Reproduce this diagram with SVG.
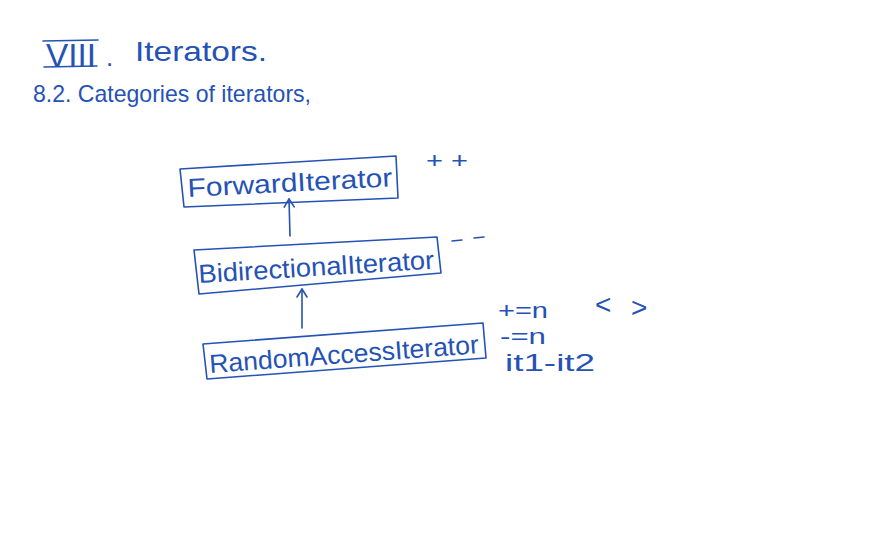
<svg xmlns="http://www.w3.org/2000/svg" width="870" height="558" viewBox="0 0 870 558">
<style>
.ink{fill:none;stroke:#2552b5;stroke-width:1.6;stroke-linecap:round;stroke-linejoin:round}
.t{fill:#2552b5;font-family:"Liberation Sans","DejaVu Sans",sans-serif}
</style>
<defs>
<marker id="ah" viewBox="0 0 12 12" refX="11" refY="6" markerWidth="12" markerHeight="12" markerUnits="userSpaceOnUse" orient="auto">
<path d="M3,1 L11,6 L3,11" fill="none" stroke="#2552b5" stroke-width="1.6" stroke-linecap="round" stroke-linejoin="round"/>
</marker>
</defs>
<rect width="870" height="558" fill="#ffffff"/>
<g id="title">
<text class="t" x="46" y="67" font-size="34" textLength="50" lengthAdjust="spacingAndGlyphs">VIII</text>
<path class="ink" d="M43,41 L98,40 M44,67 L97,66"/>
<text class="t" x="106" y="66" font-size="26">.</text>
<text class="t" x="135" y="61" font-size="28" textLength="132" lengthAdjust="spacingAndGlyphs">Iterators.</text>
</g>
<g id="subtitle">
<text class="t" x="33" y="102" font-size="24" textLength="278" lengthAdjust="spacingAndGlyphs">8.2. Categories of iterators,</text>
</g>
<g id="forward">
<path class="ink" d="M180,169 L396,156 L398,198 L184,207 Z"/>
<text class="t" x="188" y="197" font-size="26" textLength="205" lengthAdjust="spacingAndGlyphs" transform="rotate(-3 188 197)">ForwardIterator</text>
</g>
<g id="bidirectional">
<path class="ink" d="M194,250 L437,237 L441,273 L199,294 Z"/>
<text class="t" x="199" y="283" font-size="26" textLength="236" lengthAdjust="spacingAndGlyphs" transform="rotate(-3.5 199 283)">BidirectionalIterator</text>
</g>
<g id="random">
<path class="ink" d="M203,344 L483,323 L486,358 L207,379 Z"/>
<text class="t" x="210" y="373" font-size="26" textLength="270" lengthAdjust="spacingAndGlyphs" transform="rotate(-4.2 210 373)">RandomAccessIterator</text>
</g>
<g id="connectors">
<path class="ink" d="M290,236 L289,199" marker-end="url(#ah)"/>
<path class="ink" d="M302,328 L302,289" marker-end="url(#ah)"/>
</g>
<g id="notes">
<text class="t" x="426" y="168" font-size="22" textLength="42" lengthAdjust="spacingAndGlyphs">+ +</text>
<path class="ink" d="M452,241 L462,240 M474,238 L484,237"/>
<text class="t" x="498" y="318" font-size="22" textLength="50" lengthAdjust="spacingAndGlyphs">+=n</text>
<text class="t" x="500" y="344" font-size="22" textLength="46" lengthAdjust="spacingAndGlyphs">-=n</text>
<text class="t" x="505" y="371" font-size="24" textLength="90" lengthAdjust="spacingAndGlyphs">it1-it2</text>
<text class="t" x="595" y="314" font-size="28">&lt;</text>
<text class="t" x="631" y="317" font-size="28">&gt;</text>
</g>
</svg>
